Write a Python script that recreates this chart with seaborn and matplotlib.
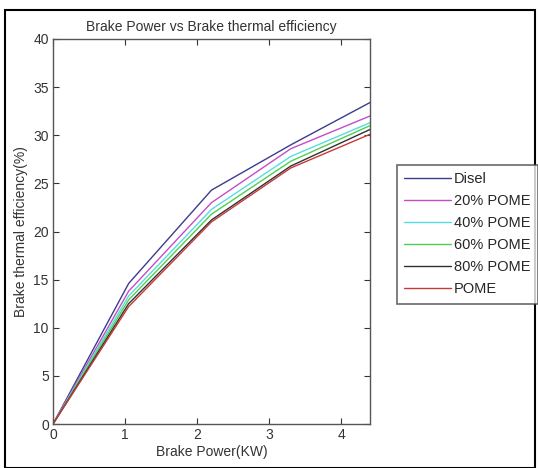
import numpy as np
import pandas as pd
import matplotlib
matplotlib.use("Agg")
import matplotlib.pyplot as plt
import seaborn as sns

# data
brake_power = [0, 1.05, 2.2, 3.3, 4.4]
series_names = ["Disel", "20% POME", "40% POME", "60% POME", "80% POME", "POME"]
disel = [0, 14.6, 24.3, 29.0, 33.4]
pome20 = [0, 13.8, 23.0, 28.6, 32.0]
pome40 = [0, 13.3, 22.3, 27.8, 31.3]
pome60 = [0, 12.9, 21.8, 27.3, 31.0]
pome80 = [0, 12.5, 21.2, 26.8, 30.6]
pome100 = [0, 12.2, 21.0, 26.6, 30.1]
colors = ["#3c3c8e", "#c64cc6", "#55dede", "#4fcf4f", "#303030", "#c83a3a"]

rows = []
for name, vals in zip(series_names, [disel, pome20, pome40, pome60, pome80, pome100]):
    for bp, v in zip(brake_power, vals):
        rows.append({"Brake Power(KW)": bp, "eff": v, "fuel": name})
df = pd.DataFrame(rows)

sns.set_style("ticks")
plt.rcParams["font.family"] = ["Liberation Sans", "DejaVu Sans"]

fig = plt.figure(figsize=(5.38, 4.68), dpi=100)
ax = fig.add_axes([53 / 538, 1 - 424 / 468, (370 - 53) / 538, (424 - 39) / 468])

sns.lineplot(data=df, x="Brake Power(KW)", y="eff", hue="fuel",
             hue_order=series_names, palette=colors, linewidth=1.0, ax=ax,
             legend=False)

ax.set_xlim(0, 4.4)
ax.set_ylim(0, 40)
ax.set_xticks([0, 1, 2, 3, 4])
ax.set_yticks(range(0, 41, 5))
ax.tick_params(direction="in", top=True, right=True, length=4, width=0.8,
               labelsize=10, colors="#333333", pad=3)
for s in ax.spines.values():
    s.set_color("#555555")
    s.set_linewidth(1.0)
ax.set_xlabel("Brake Power(KW)", fontsize=10, color="#333333", labelpad=2)
ax.set_ylabel("Brake thermal efficiency(%)", fontsize=10, color="#333333", labelpad=4)
ax.set_title("Brake Power vs Brake thermal efficiency", fontsize=10, color="#333333", pad=6)

handles = [plt.Line2D([], [], color=c, lw=1.0) for c in colors]
leg = fig.legend(handles, series_names, loc="upper left",
                 bbox_to_anchor=(397 / 538, 1 - 165 / 468), fontsize=10.5,
                 frameon=True, fancybox=False, edgecolor="#444444",
                 handlelength=3.2, handletextpad=0.2, labelspacing=0.55,
                 borderpad=0.5, borderaxespad=0)
leg.get_frame().set_linewidth(1.2)

# outer border of the picture
fig.patches.append(plt.Rectangle((5 / 538, 0.0), 530 / 538, 1 - 10 / 468,
                                 transform=fig.transFigure, fill=False,
                                 edgecolor="black", linewidth=1.5))

fig.savefig("out.png", dpi=100)
